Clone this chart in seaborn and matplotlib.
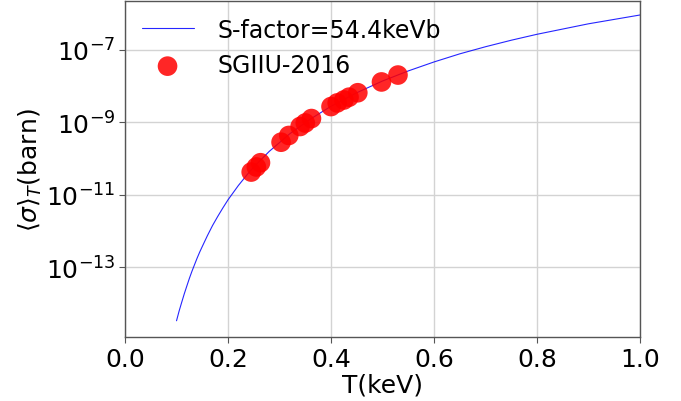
import numpy as np
import pandas as pd
import matplotlib
matplotlib.use("Agg")
import matplotlib.pyplot as plt
import seaborn as sns

# Curve (S-factor = 54.4 keVb)
curve_T = [0.100, 0.105, 0.110, 0.115, 0.120, 0.125, 0.130, 0.135, 0.140, 0.145,
           0.150, 0.160, 0.170, 0.180, 0.190, 0.200, 0.220, 0.240, 0.250, 0.280,
           0.320, 0.360, 0.400, 0.450, 0.500, 0.550, 0.600, 0.650, 0.700, 0.750,
           0.800, 0.900, 1.000]
curve_sigma = [3.3e-15, 6.1e-15, 1.06e-14, 1.82e-14, 3.0e-14, 4.9e-14, 7.7e-14,
               1.17e-13, 1.77e-13, 2.6e-13, 3.7e-13, 7.4e-13, 1.41e-12, 2.5e-12,
               4.3e-12, 7.2e-12, 1.78e-11, 4.0e-11, 5.8e-11, 1.56e-10, 4.8e-10,
               1.22e-9, 2.75e-9, 6.5e-9, 1.37e-8, 2.6e-8, 4.6e-8, 7.7e-8, 1.21e-7,
               1.83e-7, 2.67e-7, 5.2e-7, 9.1e-7]

# SGIIU-2016 data points
data_T = [0.245, 0.255, 0.263, 0.303, 0.318, 0.340, 0.350, 0.362,
          0.400, 0.412, 0.425, 0.435, 0.452, 0.498, 0.530]
data_sigma = [4.2e-11, 5.8e-11, 7.6e-11, 2.8e-10, 4.3e-10, 7.6e-10, 9.5e-10,
              1.26e-9, 2.7e-9, 3.4e-9, 4.1e-9, 4.9e-9, 6.5e-9, 1.29e-8, 2.0e-8]

curve_label = "S-factor=54.4keVb"
data_label = "SGIIU-2016"
ytick_vals = [1e-13, 1e-11, 1e-9, 1e-7]
xtick_vals = [0.0, 0.2, 0.4, 0.6, 0.8, 1.0]

sns.set_style("whitegrid", {"axes.edgecolor": "#555555", "grid.color": "#d3d3d3",
                            "xtick.bottom": True, "ytick.left": True,
                            "text.color": "black", "axes.labelcolor": "black",
                            "xtick.color": "black", "ytick.color": "black"})
plt.rcParams['font.family'] = ['DejaVu Sans']

fig = plt.figure(figsize=(6.81, 4.02), dpi=100)
ax = fig.add_axes([0.1836, 0.1592, 0.9398 - 0.1836, 0.995 - 0.1592])

df_curve = pd.DataFrame({"T": curve_T, "sigma": curve_sigma})
df_data = pd.DataFrame({"T": data_T, "sigma": data_sigma})

sns.lineplot(data=df_curve, x="T", y="sigma", ax=ax, color="blue", lw=0.8,
             alpha=0.85, label=curve_label, sort=True)
sns.scatterplot(data=df_data, x="T", y="sigma", ax=ax, color="red", s=200,
                alpha=0.85, edgecolor="none", label=data_label, zorder=3)

ax.set_yscale("log")
ax.set_xlim(0, 1.0)
ax.set_ylim(10 ** -14.93, 10 ** -5.655)
ax.set_yticks(ytick_vals)
ax.yaxis.set_minor_locator(matplotlib.ticker.NullLocator())
ax.set_xticks(xtick_vals)
ax.set_xticklabels([f"{v:.1f}" for v in xtick_vals])

ax.tick_params(axis="both", labelsize=18, length=4, width=0.8, color="#555555",
               labelcolor="black", pad=3)
ax.set_xlabel("T(keV)", fontsize=18, labelpad=1, color="black")
ax.set_ylabel(r"$\langle\sigma\rangle_T$(barn)", fontsize=18, labelpad=1, color="black")

for sp in ax.spines.values():
    sp.set_linewidth(1.0)
    sp.set_color("#555555")
ax.grid(True, color="#d3d3d3", lw=1.0)

leg = ax.legend(loc="upper left", frameon=False, fontsize=17,
                handlelength=2.2, handletextpad=1.0, borderaxespad=0.3,
                labelspacing=0.5)
for t in leg.get_texts():
    t.set_color("black")

fig.savefig("out.png", dpi=100)
